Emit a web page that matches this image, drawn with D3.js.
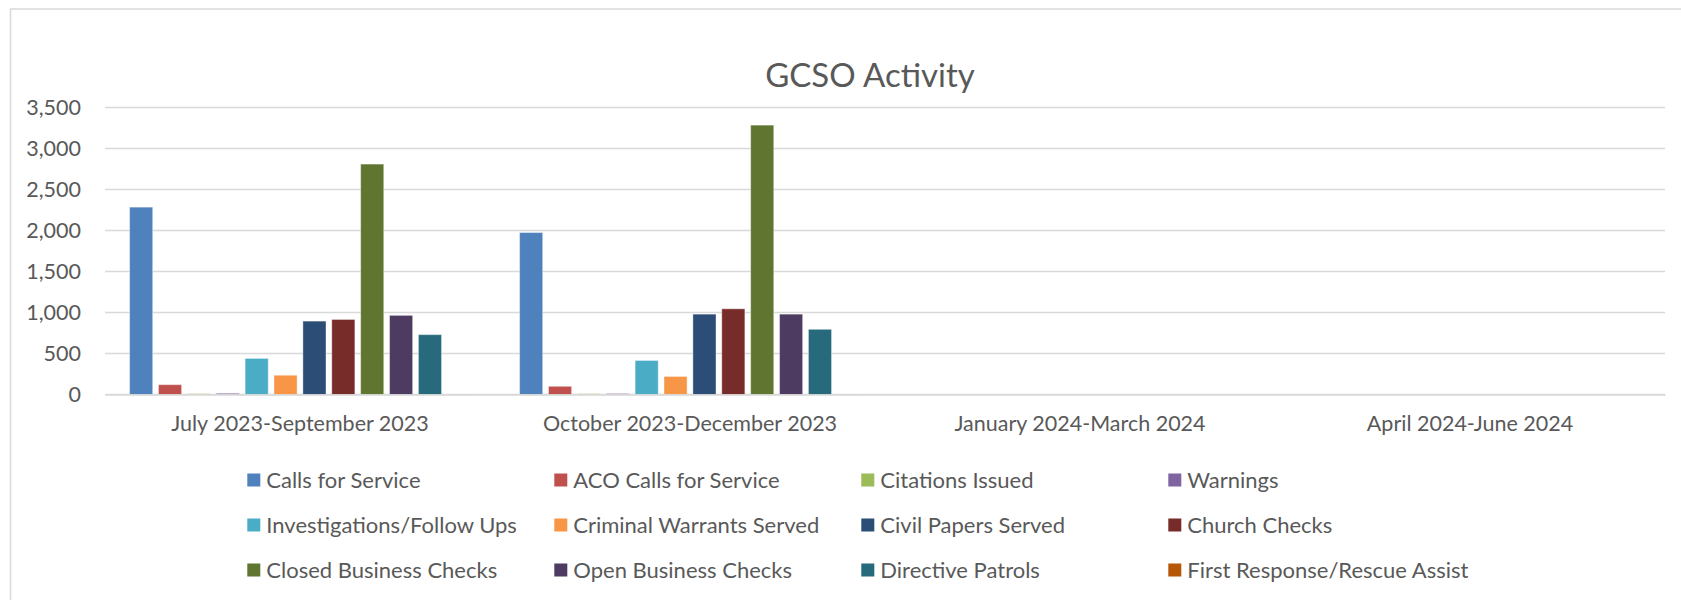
<!DOCTYPE html>
<html>
<head>
<meta charset="utf-8">
<script src="https://cdn.jsdelivr.net/npm/d3@7"></script>
<style>
  body { margin: 0; background: #fff; }
  text { font-family: Lato, "Open Sans", sans-serif; fill: #595959; }
</style>
</head>
<body>
<div id="vis"></div>
<script>
// data
let quarters = ["July 2023-September 2023", "October 2023-December 2023", "January 2024-March 2024", "April 2024-June 2024"]
let seriesNames = ["Calls for Service", "ACO Calls for Service", "Citations Issued", "Warnings",
    "Investigations/Follow Ups", "Criminal Warrants Served", "Civil Papers Served", "Church Checks",
    "Closed Business Checks", "Open Business Checks", "Directive Patrols", "First Response/Rescue Assist"]
let seriesColors = ["#4F81BD", "#C0504D", "#9BBB59", "#8064A2", "#4BACC6", "#F79646",
    "#2C4D75", "#772C2A", "#5F7530", "#4D3B62", "#276A7C", "#B65708"]
let julSep = [2285, 120, 10, 15, 440, 235, 895, 915, 2810, 965, 730, 4]
let octDec = [1975, 100, 10, 12, 415, 220, 980, 1045, 3285, 980, 795, 4]
let janMar = [0, 0, 0, 0, 0, 0, 0, 0, 0, 0, 0, 0]
let aprJun = [0, 0, 0, 0, 0, 0, 0, 0, 0, 0, 0, 0]
let yTicks = [0, 500, 1000, 1500, 2000, 2500, 3000, 3500]

let values = [julSep, octDec, janMar, aprJun]

let svgWidth = 1681
let svgHeight = 600

let plot = { left: 105, right: 1665, top: 107.5, bottom: 394.5 }

let svg = d3.select('#vis')
    .append('svg')
    .attr('width', svgWidth)
    .attr('height', svgHeight)

// chart frame
svg.append('rect')
    .attr('x', 10.5)
    .attr('y', 9)
    .attr('width', 1690)
    .attr('height', 620)
    .attr('fill', 'none')
    .attr('stroke', '#d9d9d9')
    .attr('stroke-width', 1.5)

// scales
let xScale = d3.scaleBand()
    .domain(quarters)
    .range([plot.left, plot.right])

let xInner = d3.scaleBand()
    .domain(seriesNames)
    .range([21.7, xScale.bandwidth() - 21.7])
    .paddingInner(0.2)
    .paddingOuter(0.1)

let yScale = d3.scaleLinear()
    .domain([0, 3500])
    .range([plot.bottom, plot.top])

let colorScale = d3.scaleOrdinal()
    .domain(seriesNames)
    .range(seriesColors)

// gridlines
svg.append('g')
    .selectAll('line')
    .data(yTicks)
    .join('line')
        .attr('x1', plot.left)
        .attr('x2', plot.right)
        .attr('y1', d => yScale(d))
        .attr('y2', d => yScale(d))
        .attr('stroke', '#d9d9d9')
        .attr('stroke-width', 1.5)

// y axis
let yAxis = d3.axisLeft(yScale)
    .tickValues(yTicks)
    .tickFormat(d3.format(','))
    .tickSize(0)
    .tickPadding(0)

svg.append('g')
    .attr('id', 'y-axis')
    .attr('transform', 'translate(81,0)')
    .call(yAxis)
    .call(g => g.select('.domain').remove())
    .selectAll('text')
        .attr('font-size', 21.5)
        .attr('font-family', 'Lato')
        .attr('fill', '#595959')

// bars
let groups = svg.append('g')
    .selectAll('g')
    .data(quarters)
    .join('g')
        .attr('transform', d => `translate(${xScale(d)},0)`)

groups.selectAll('rect')
    .data((q, i) => seriesNames.map((s, j) => ({ name: s, value: values[i][j] })))
    .join('rect')
        .attr('x', d => xInner(d.name))
        .attr('width', xInner.bandwidth())
        .attr('y', d => yScale(d.value))
        .attr('height', d => yScale(0) - yScale(d.value))
        .attr('fill', d => colorScale(d.name))
        .attr('stroke', 'rgba(255,255,255,0.4)')
        .attr('stroke-width', 1)

// x axis
let xAxis = d3.axisBottom(xScale)
    .tickSize(0)
    .tickPadding(21)

svg.append('g')
    .attr('id', 'x-axis')
    .attr('transform', `translate(0,${plot.bottom})`)
    .call(xAxis)
    .call(g => g.select('.domain').attr('stroke', '#d9d9d9').attr('stroke-width', 1.5))
    .selectAll('text')
        .attr('font-size', 21.5)
        .attr('font-family', 'Lato')
        .attr('fill', '#595959')

// title
svg.append('text')
    .attr('x', 870)
    .attr('y', 87)
    .attr('text-anchor', 'middle')
    .attr('font-size', 33)
    .text('GCSO Activity')

// legend
let legendX = d3.scaleLinear().domain([0, 1]).range([247.3, 554.3])
let legendY = d3.scaleLinear().domain([0, 1]).range([480, 525])

let legend = svg.append('g')
    .selectAll('g')
    .data(seriesNames)
    .join('g')
        .attr('transform', (d, i) => `translate(${legendX(i % 4)},${legendY(Math.floor(i / 4))})`)

legend.append('rect')
    .attr('x', 0)
    .attr('y', -6.5)
    .attr('width', 13)
    .attr('height', 13)
    .attr('fill', d => colorScale(d))

legend.append('text')
    .attr('x', 19)
    .attr('y', 0)
    .attr('dy', '0.35em')
    .attr('font-size', 22)
    .text(d => d)
</script>
</body>
</html>
